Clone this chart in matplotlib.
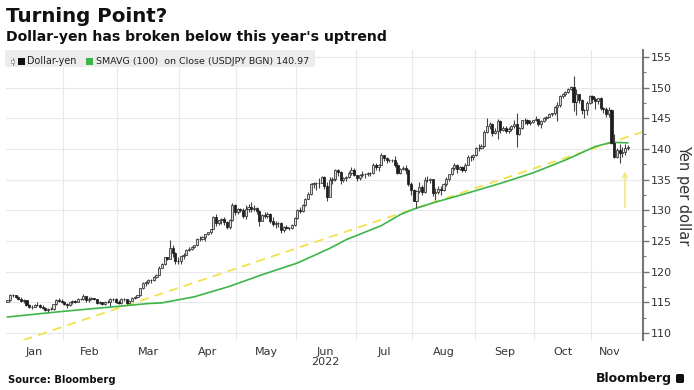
import numpy as np
import pandas as pd
import matplotlib
matplotlib.use("Agg")
import matplotlib.pyplot as plt
from matplotlib.patches import Rectangle, FancyBboxPatch
from matplotlib.ticker import MultipleLocator

# ---------------- data (USD/JPY daily) ----------------
start_date = "2022-01-03"
end_date = "2022-11-18"
first_open = 115.08

close_jan = [115.30, 116.14, 116.12, 115.82, 115.56, 115.20, 115.31, 114.59, 114.19, 114.20, 114.59,
             114.62, 114.31, 114.11, 113.69, 113.98, 113.86, 114.69, 115.35, 115.24, 115.11]
high_jan = [115.45, 116.35, 116.35, 116.20, 116.00, 115.85, 115.55, 115.35, 114.65, 114.55, 114.75,
            115.06, 114.70, 114.50, 114.20, 114.15, 114.20, 114.75, 115.48, 115.68, 115.50]
low_jan = [115.00, 115.20, 115.80, 115.65, 115.40, 115.10, 114.95, 114.45, 114.00, 113.90, 114.18,
           114.40, 114.10, 113.95, 113.65, 113.48, 113.75, 113.80, 114.55, 115.00, 114.90]

close_feb = [114.68, 114.51, 114.97, 115.20, 115.09, 115.55, 115.54, 116.02, 115.42, 115.57,
             115.69, 115.48, 114.92, 115.01, 114.76, 115.09, 115.02, 115.49, 115.55, 114.99]
high_feb = [115.20, 114.85, 115.10, 115.40, 115.35, 115.70, 115.70, 116.34, 116.10, 115.80,
            115.80, 115.75, 115.50, 115.15, 115.10, 115.20, 115.30, 115.70, 115.75, 115.70]
low_feb = [114.60, 114.15, 114.40, 114.80, 114.95, 115.05, 115.35, 115.45, 115.05, 115.00,
           115.40, 115.30, 114.80, 114.70, 114.50, 114.60, 114.90, 114.40, 115.20, 114.90]

close_mar = [114.89, 115.46, 115.48, 114.84, 115.27, 115.68, 115.85, 116.12, 117.31, 118.17, 118.31,
             118.71, 118.60, 119.18, 119.46, 120.64, 121.17, 122.34, 122.05, 123.83, 123.07, 121.78, 121.70]
high_mar = [115.40, 115.75, 115.75, 115.50, 115.40, 115.80, 116.05, 116.25, 117.35, 118.30, 118.45,
            118.75, 118.85, 119.25, 119.55, 120.95, 121.40, 122.44, 122.45, 125.09, 124.30, 123.20, 122.40]
low_mar = [114.65, 114.75, 115.20, 114.65, 114.70, 115.20, 115.55, 115.70, 116.10, 117.20, 117.70,
           118.00, 118.20, 118.55, 119.00, 119.40, 120.60, 121.05, 121.95, 122.00, 122.40, 121.20, 121.30]

close_apr = [122.52, 122.77, 123.61, 123.73, 123.98, 124.32, 125.35, 125.38, 125.66, 126.06, 126.42,
             126.96, 128.89, 127.88, 128.41, 128.55, 128.13, 127.21, 128.38, 130.86, 129.70]
high_apr = [122.60, 123.05, 123.70, 124.05, 124.15, 124.40, 125.45, 125.75, 125.80, 126.20, 126.50,
            127.00, 129.05, 129.40, 128.50, 128.70, 128.85, 128.20, 128.60, 131.25, 131.00]
low_apr = [121.30, 122.10, 122.75, 123.40, 123.45, 123.80, 124.25, 124.95, 125.10, 125.05, 125.90,
           126.20, 126.95, 127.50, 127.60, 127.80, 127.55, 126.95, 127.00, 128.30, 129.30]

close_may = [130.14, 130.11, 129.07, 130.19, 130.56, 130.27, 130.44, 129.97, 128.31, 129.20, 129.13,
             129.36, 128.25, 127.77, 127.88, 127.89, 126.85, 127.35, 127.13, 127.11, 127.62, 128.67]
high_may = [130.45, 130.35, 130.40, 130.80, 131.05, 131.35, 130.80, 130.50, 130.10, 129.40, 129.70,
            129.75, 129.60, 128.95, 128.20, 128.10, 128.05, 127.45, 127.60, 127.30, 127.70, 128.85]
low_may = [129.40, 129.75, 128.70, 128.60, 129.80, 129.80, 129.85, 129.35, 127.50, 128.20, 128.80,
           128.80, 128.00, 127.50, 127.05, 127.35, 126.35, 126.50, 126.90, 126.80, 126.90, 127.40]

close_jun = [130.10, 129.92, 130.87, 131.89, 132.63, 134.23, 134.39, 134.40, 134.42, 135.47, 134.02,
             132.19, 134.98, 135.09, 136.64, 136.23, 134.95, 135.21, 135.44, 136.14, 136.62, 135.73]
high_jun = [130.25, 130.50, 130.98, 132.00, 132.99, 134.48, 134.55, 134.56, 135.20, 135.60, 135.59,
            134.68, 135.44, 135.44, 136.71, 136.71, 136.37, 135.37, 135.60, 136.38, 136.99, 136.90]
low_jun = [128.65, 129.50, 129.75, 130.70, 131.85, 132.55, 133.70, 133.37, 133.60, 134.40, 133.50,
           131.50, 132.10, 134.25, 134.80, 135.60, 134.27, 134.70, 134.78, 135.22, 135.83, 135.60]

close_jul = [135.21, 135.70, 135.88, 135.92, 136.02, 136.12, 137.44, 137.04, 137.38, 138.98, 138.56,
             138.15, 138.18, 138.19, 137.35, 136.11, 136.68, 136.94, 136.57, 134.25, 133.27]
high_jul = [135.80, 135.90, 136.38, 136.15, 136.20, 136.30, 137.75, 137.71, 137.60, 139.38, 139.00,
            138.70, 138.40, 138.39, 138.88, 137.90, 136.90, 137.20, 137.46, 136.80, 134.63]
low_jul = [134.75, 134.90, 135.40, 135.35, 135.55, 135.65, 135.95, 136.50, 136.35, 137.35, 138.05,
           137.75, 137.85, 137.83, 137.05, 135.90, 136.00, 136.58, 135.85, 133.96, 132.54]

close_aug = [131.60, 133.17, 133.88, 133.04, 135.00, 134.99, 135.12, 132.89, 133.01, 133.43, 133.30, 134.25,
             135.13, 135.89, 136.91, 137.47, 136.77, 137.13, 136.53, 137.47, 138.77, 138.74, 138.95]
high_aug = [133.40, 133.24, 134.55, 134.08, 135.50, 135.58, 135.30, 135.15, 133.58, 133.90, 133.95, 134.50,
            135.50, 136.00, 137.00, 137.70, 137.60, 137.30, 137.15, 137.70, 139.10, 139.10, 139.20]
low_aug = [131.50, 130.40, 132.90, 132.55, 132.85, 134.60, 134.40, 132.40, 131.75, 132.60, 132.55, 133.10,
           134.00, 134.85, 135.80, 136.50, 136.15, 136.50, 136.20, 136.25, 137.40, 138.10, 138.20]

close_sep = [140.19, 140.20, 140.50, 142.73, 143.77, 144.10, 142.54, 142.87, 144.56, 143.17, 143.47,
             142.92, 143.19, 143.72, 144.05, 142.37, 143.40, 144.73, 144.80, 144.19, 144.45, 144.74]
high_sep = [140.27, 140.80, 140.80, 143.08, 144.99, 144.45, 144.21, 143.40, 144.96, 144.70, 143.70,
            143.79, 143.58, 143.92, 144.70, 145.90, 143.60, 144.79, 145.00, 144.85, 144.80, 144.80]
low_sep = [138.90, 139.60, 140.00, 140.40, 142.60, 143.20, 142.20, 142.40, 141.65, 142.55, 143.00,
           142.65, 142.60, 143.00, 143.40, 140.36, 142.30, 143.30, 144.10, 143.90, 143.95, 144.30]

close_oct = [144.86, 144.13, 144.61, 145.11, 145.27, 145.71, 145.80, 146.87, 147.23, 148.69, 148.96,
             149.24, 149.87, 150.14, 147.65, 148.99, 147.94, 146.36, 146.35, 147.47, 148.70]
high_oct = [145.40, 144.95, 144.80, 145.20, 145.45, 145.90, 145.90, 146.98, 147.67, 148.86, 149.10,
            149.40, 149.90, 150.29, 151.94, 149.71, 149.00, 148.10, 146.55, 147.87, 148.84]
low_oct = [144.50, 143.75, 143.50, 144.40, 144.75, 145.15, 145.40, 145.50, 144.50, 146.90, 148.30,
           148.70, 149.20, 149.60, 146.23, 145.51, 147.50, 145.70, 145.10, 145.50, 147.30]

close_nov = [148.14, 147.82, 148.29, 146.61, 146.60, 145.63, 146.42, 141.06, 138.76, 139.91, 139.30,
             139.54, 140.20, 140.38]
high_nov = [148.82, 148.50, 148.40, 148.45, 146.90, 146.80, 146.80, 146.59, 142.48, 140.20, 140.80,
            140.40, 140.85, 140.65]
low_nov = [147.55, 146.60, 147.30, 146.40, 145.90, 145.30, 145.30, 140.87, 138.47, 138.50, 137.68,
           138.70, 139.10, 139.80]

# 100-day simple moving average, read at selected dates
sma_dates = ["2022-01-03", "2022-01-31", "2022-02-28", "2022-03-16", "2022-03-23", "2022-04-08",
             "2022-04-27", "2022-05-13", "2022-06-01", "2022-06-17", "2022-06-27", "2022-07-14",
             "2022-07-25", "2022-08-01", "2022-08-10", "2022-08-26", "2022-09-14", "2022-09-30",
             "2022-10-18", "2022-11-02", "2022-11-10", "2022-11-18"]
sma_values = [112.6, 113.5, 114.3, 114.8, 114.9, 115.9, 117.6, 119.5, 121.4, 123.8, 125.2, 127.5,
              129.3, 130.2, 131.2, 132.7, 134.4, 136.1, 138.2, 140.4, 141.1, 141.0]

# Uptrend line through the March and August lows
trend_dates = ["2022-03-07", "2022-08-02"]
trend_values = [114.65, 130.39]

# Arrow annotation (date, from value, to value)
arrow_date = "2022-11-17"
arrow_from = 130.0
arrow_to = 136.8

month_labels = ["Jan", "Feb", "Mar", "Apr", "May", "Jun\n2022", "Jul", "Aug", "Sep", "Oct", "Nov"]
y_ticks = [110, 115, 120, 125, 130, 135, 140, 145, 150, 155]

title = "Turning Point?"
subtitle = "Dollar-yen has broken below this year's uptrend"
legend_price = "Dollar-yen"
legend_sma = "SMAVG (100)  on Close (USDJPY BGN) 140.97"
source = "Source: Bloomberg"
ylabel = "Yen per dollar"

# ---------------- build series ----------------
closes = (close_jan + close_feb + close_mar + close_apr + close_may + close_jun +
          close_jul + close_aug + close_sep + close_oct + close_nov)
highs = (high_jan + high_feb + high_mar + high_apr + high_may + high_jun +
         high_jul + high_aug + high_sep + high_oct + high_nov)
lows = (low_jan + low_feb + low_mar + low_apr + low_may + low_jun +
        low_jul + low_aug + low_sep + low_oct + low_nov)
opens = [first_open] + closes[:-1]

dates = pd.bdate_range(start_date, end_date)
n = min(len(dates), len(closes))
dates = dates[:n]
pos = {d: i for i, d in enumerate(dates)}
x = np.arange(n)
c = np.array(closes[:n]); o = np.array(opens[:n])
h = np.array(highs[:n]); l = np.array(lows[:n])

def idx(dstr):
    return pos[pd.Timestamp(dstr)]

# ---------------- figure ----------------
W, H = 694, 390
fig = plt.figure(figsize=(W / 100, H / 100), dpi=100)
fig.patch.set_facecolor("white")

ax_l, ax_r, ax_t, ax_b = 6, 643, 50, 340
ax = fig.add_axes([ax_l / W, 1 - ax_b / H, (ax_r - ax_l) / W, (ax_b - ax_t) / H])
ax.set_facecolor("white")
ax.set_xlim(-0.55, 234.65)
ax.set_ylim(108.85, 156.15)

# grid
for yv in y_ticks:
    ax.axhline(yv, color="#e8e8e8", lw=0.8, zorder=0)
months = dates.month
starts = [i for i in range(1, n) if months[i] != months[i - 1]]
for s in starts:
    ax.axvline(s - 0.5, color="#e8e8e8", lw=0.8, zorder=0)

# month labels at month centres
centres = []
for m in sorted(set(months)):
    ii = np.where(months == m)[0]
    centres.append((ii[0] + ii[-1]) / 2.0)
ax.set_xticks(centres)
ax.set_xticklabels(month_labels[:len(centres)], fontsize=8, color="#333333", linespacing=1.0)
ax.tick_params(axis="x", length=0, pad=5)

# right y axis
ax.yaxis.tick_right()
ax.yaxis.set_label_position("right")
ax.set_yticks(y_ticks)
ax.set_yticklabels([str(v) for v in y_ticks], fontsize=8, color="#333333")
ax.yaxis.set_minor_locator(MultipleLocator(2.5))
ax.tick_params(axis="y", which="major", length=4, width=1, color="#777777", pad=1.5, direction="out")
ax.tick_params(axis="y", which="minor", length=2, width=0.8, color="#777777", direction="out")
ax.set_ylabel(ylabel, rotation=270, fontsize=10.5, color="#333333", labelpad=14)
for sp in ["top", "left", "bottom"]:
    ax.spines[sp].set_visible(False)
ax.spines["right"].set_color("#777777")
ax.spines["right"].set_linewidth(1.5)

# trend line (dashed yellow)
ax.axline((idx(trend_dates[0]), trend_values[0]), (idx(trend_dates[1]), trend_values[1]),
          color="#f2e24a", lw=1.3, ls=(0, (5, 3.5)), zorder=2)

# SMA line
sx = [idx(d) for d in sma_dates]
ax.plot(sx, sma_values, color="#3db54a", lw=1.2, zorder=3)

# candles
ax.vlines(x, l, h, color="#444444", lw=0.8, zorder=4)
up = c >= o
body_w = 0.78
ax.bar(x[up], (c - o)[up], bottom=o[up], width=body_w, color="#d8d8d8",
       edgecolor="#2e2e2e", lw=0.55, zorder=5)
ax.bar(x[~up], (c - o)[~up], bottom=o[~up], width=body_w, color="#1e1e1e",
       edgecolor="#1e1e1e", lw=0.55, zorder=5)

# arrow
ax.annotate("", xy=(idx(arrow_date), arrow_to), xytext=(idx(arrow_date), arrow_from),
            arrowprops=dict(arrowstyle="->", color="#f3e67a", lw=1.1, mutation_scale=9), zorder=6)

# legend box
fig.patches.append(Rectangle((5 / W, 1 - 67 / H), 310 / W, 17 / H, transform=fig.transFigure,
                             facecolor="#ececec", edgecolor="none", zorder=10))
ly = 1 - 61.5 / H
fig.add_artist(plt.Line2D([12.5 / W, 12.5 / W], [1 - 65 / H, 1 - 57.5 / H], color="#888888",
                          lw=0.7, transform=fig.transFigure, zorder=11))
fig.patches.append(Rectangle((11.3 / W, 1 - 63 / H), 2.4 / W, 3.5 / H, transform=fig.transFigure,
                             facecolor="white", edgecolor="#888888", lw=0.5, zorder=12))
fig.patches.append(Rectangle((18 / W, 1 - 65 / H), 7 / W, 7 / H, transform=fig.transFigure,
                             facecolor="#111111", edgecolor="none", zorder=11))
fig.text(27 / W, ly, legend_price, fontsize=6.9, color="#222222", va="center", ha="left", zorder=12)
fig.patches.append(Rectangle((86 / W, 1 - 65 / H), 7 / W, 7 / H, transform=fig.transFigure,
                             facecolor="#3db54a", edgecolor="none", zorder=11))
fig.text(96 / W, ly, legend_sma, fontsize=6.8, color="#222222", va="center", ha="left", zorder=12)

# titles
fig.text(6 / W, 1 - 17 / H, title, fontsize=14.3, fontweight="bold", color="#111111", va="center", ha="left")
fig.text(6 / W, 1 - 37.5 / H, subtitle, fontsize=10.1, fontweight="bold", color="#111111",
         va="center", ha="left")
fig.text(8 / W, 1 - 380 / H, source, fontsize=7.2, fontweight="bold", color="#111111",
         va="center", ha="left")
fig.text(672 / W, 1 - 378.5 / H, "Bloomberg", fontsize=9, fontweight="bold", color="#111111",
         va="center", ha="right")
fig.patches.append(FancyBboxPatch((676 / W, 1 - 383 / H), 8 / W, 9 / H, transform=fig.transFigure,
                                  boxstyle="round,pad=0,rounding_size=0.003",
                                  facecolor="#111111", edgecolor="none"))

fig.savefig("out.png", dpi=100, facecolor="white")
